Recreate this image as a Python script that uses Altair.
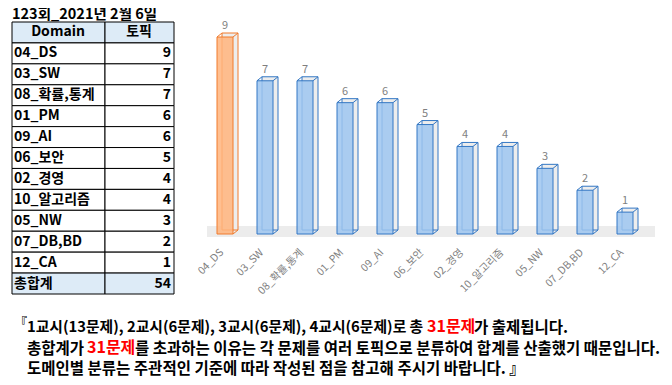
import altair as alt
import pandas as pd

FONT = "Noto Sans CJK KR"

title_text = "123회_2021년 2월 6일"
categories = ["04_DS", "03_SW", "08_확률,통계", "01_PM", "09_AI", "06_보안",
              "02_경영", "10_알고리즘", "05_NW", "07_DB,BD", "12_CA"]
topics = [9, 7, 7, 6, 6, 5, 4, 4, 3, 2, 1]
header_labels = ["Domain", "토픽"]
total_label = "총합계"
footer_line1 = ["1교시(13문제), 2교시(6문제), 3교시(6문제), 4교시(6문제)로 총", "31문제", "가 출제됩니다."]
footer_line2 = ["총합계가", "31문제", "를 초과하는 이유는 각 문제를 여러 토픽으로 분류하여 합계를 산출했기 때문입니다."]
footer_line3 = ["도메인별 분류는 주관적인 기준에 따라 작성된 점을 참고해 주시기 바랍니다. 』"]
open_bracket = "『"

BLUE_FILL, BLUE_LINE = "#9ec6f0", "#3377c4"
ORANGE_FILL, ORANGE_LINE = "#ffb47c", "#f07b2c"

# ---------------- bars ----------------
bars_df = pd.DataFrame({"cat": categories, "n": topics})
bars_df["hl"] = bars_df["n"] == bars_df["n"].max()

xs = alt.Scale(domain=categories, range=[197, 637], paddingInner=0.6, paddingOuter=0.3)
ys = alt.Scale(domain=[0, 9], range=[226, 29], nice=False)
X = alt.X("cat:N", scale=xs, axis=None)
Y = alt.Y("n:Q", scale=ys, axis=None)
fill_c = alt.condition("datum.hl", alt.value(ORANGE_FILL), alt.value(BLUE_FILL))
line_c = alt.condition("datum.hl", alt.value(ORANGE_LINE), alt.value(BLUE_LINE))

base = alt.Chart(bars_df)

floor = alt.Chart(pd.DataFrame({"d": [0]})).mark_rect(color="#ececec").encode(
    x=alt.value(199), x2=alt.value(647), y=alt.value(218), y2=alt.value(229)
)

back = base.mark_bar(xOffset=5, yOffset=-4, y2Offset=-4, fill="#ededed", strokeWidth=1).encode(
    x=X, y=Y, stroke=line_c
)
front = base.mark_bar(fillOpacity=0.85, strokeWidth=1).encode(
    x=X, y=Y, fill=fill_c, stroke=line_c
)

def corner(bp, top=True):
    enc = dict(
        x=alt.X("cat:N", scale=xs, axis=None, bandPosition=bp),
        x2=alt.X2("cat", bandPosition=bp),
        stroke=line_c,
    )
    if top:
        enc["y"] = Y
        enc["y2"] = alt.Y2("n")
    else:
        enc["y"] = alt.Y(datum=0, scale=ys, axis=None)
        enc["y2"] = alt.datum(0)
    return base.mark_rule(x2Offset=5, y2Offset=-4, strokeWidth=1).encode(**enc)

value_labels = base.mark_text(dy=-11, fontSize=11, color="#7f7f7f", font=FONT, baseline="middle").encode(
    x=X, y=Y, text="n:Q"
)
cat_labels = base.mark_text(angle=315, align="right", baseline="middle", xOffset=-3,
                            fontSize=10.5, color="#808080", font=FONT).encode(
    x=X, y=alt.value(243), text="cat:N"
)

bars_layer = alt.layer(floor, back, front, corner(0), corner(1), corner(1, top=False),
                       value_labels, cat_labels)

# ---------------- table ----------------
row_keys = [header_labels[0]] + categories + [total_label]
row_right = [header_labels[1]] + [str(v) for v in topics] + [str(sum(topics))]
row_kind = ["header"] + ["body"] * len(categories) + ["total"]
table_df = pd.DataFrame({"key": row_keys, "right": row_right, "kind": row_kind})

ts = alt.Scale(domain=row_keys, range=[14, 286], paddingInner=0, paddingOuter=0)
TY = alt.Y("key:N", scale=ts, axis=None)
cell_fill = alt.condition("datum.kind != 'body'", alt.value("#ddebf7"), alt.value("white"))
tbase = alt.Chart(table_df)

cells_l = tbase.mark_rect(stroke="black", strokeWidth=1).encode(
    y=TY, x=alt.value(4), x2=alt.value(97), fill=cell_fill)
cells_r = tbase.mark_rect(stroke="black", strokeWidth=1).encode(
    y=TY, x=alt.value(97), x2=alt.value(166), fill=cell_fill)
txt_kw = dict(font=FONT, fontWeight="bold", fontSize=14, color="black", baseline="middle")
head_l = tbase.transform_filter("datum.kind == 'header'").mark_text(align="center", **txt_kw).encode(
    y=TY, x=alt.value(50), text="key:N")
head_r = tbase.transform_filter("datum.kind == 'header'").mark_text(align="center", **txt_kw).encode(
    y=TY, x=alt.value(131), text="right:N")
body_l = tbase.transform_filter("datum.kind != 'header'").mark_text(align="left", **txt_kw).encode(
    y=TY, x=alt.value(6), text="key:N")
body_r = tbase.transform_filter("datum.kind != 'header'").mark_text(align="right", **txt_kw).encode(
    y=TY, x=alt.value(163), text="right:N")

table_layer = alt.layer(cells_l, cells_r, head_l, head_r, body_l, body_r)

# ---------------- texts ----------------
def txt(s, x, y, size=15.5, color="black", weight="bold", align="left"):
    return alt.Chart(pd.DataFrame({"t": [s]})).mark_text(
        font=FONT, fontSize=size, color=color, fontWeight=weight, align=align, baseline="middle"
    ).encode(x=alt.value(x), y=alt.value(y), text="t:N")

RED = "#ff0000"
texts = [
    txt(title_text, 4, 6.5, size=14.5),
    txt(open_bracket, 19, 315, size=12, align="right"),
    txt(footer_line1[0], 19, 320, size=14.8),
    txt(footer_line1[1], 419, 319, size=16, color=RED),
    txt(footer_line1[2], 466, 320),
    txt(footer_line2[0], 19, 341),
    txt(footer_line2[1], 79, 340, size=16, color=RED),
    txt(footer_line2[2], 127, 341),
    txt(footer_line3[0], 19, 361),
]

chart = alt.layer(table_layer, bars_layer, *texts).resolve_scale(
    x="independent", y="independent", stroke="independent", fill="independent"
).properties(
    width=656, height=369, padding=0, autosize=alt.AutoSizeParams(type="none")
).configure_view(stroke=None)

chart.save("out.html", embed_options={"renderer": "svg", "actions": False})
